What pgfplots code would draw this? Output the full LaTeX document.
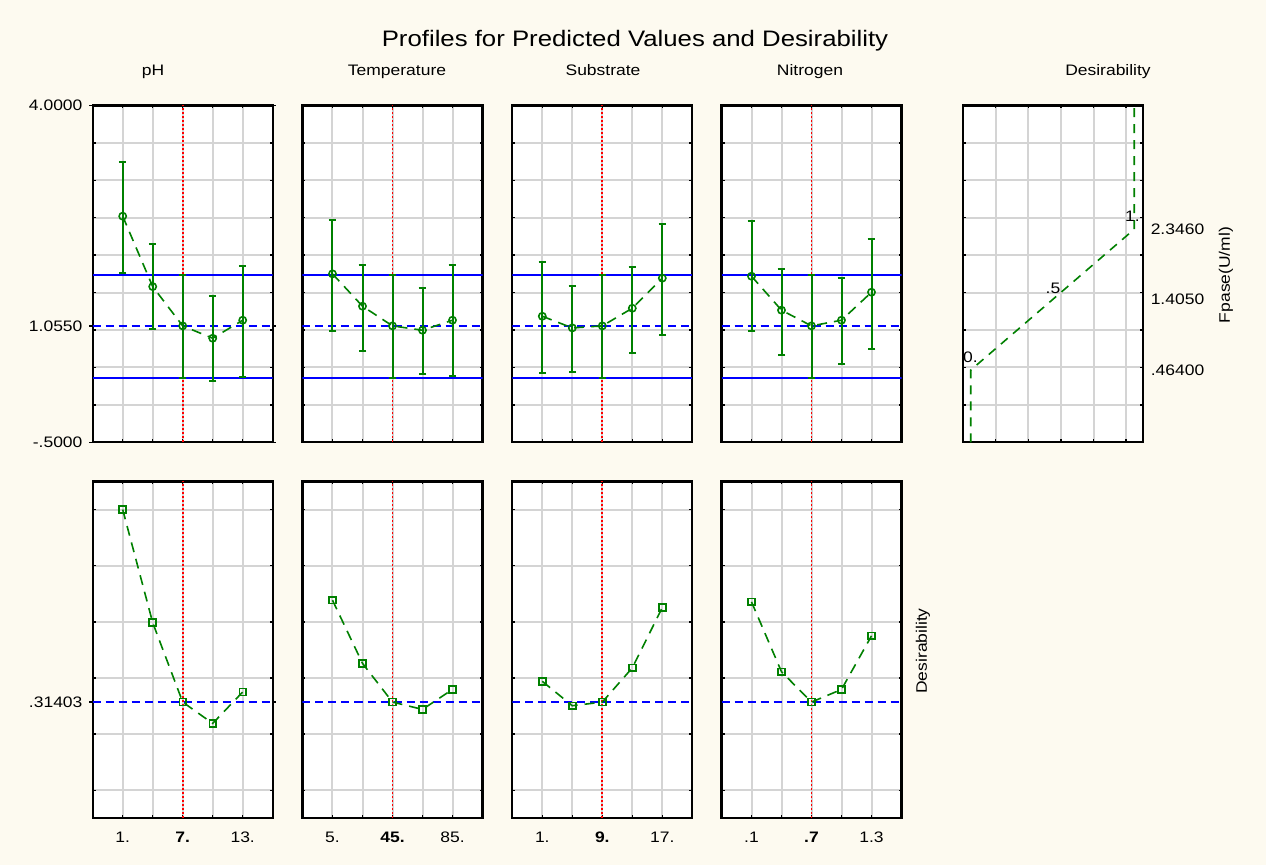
\documentclass[border=0pt]{standalone}
\usepackage{pgfplots}
\pgfplotsset{compat=1.18}
\usepackage{fontspec}
\setmainfont{Liberation Sans}[FakeStretch=1.15]
\definecolor{bg}{RGB}{253,250,240}
\definecolor{gr}{RGB}{0,128,0}
\definecolor{gridc}{RGB}{212,212,212}
\newcommand{\lab}{\fontsize{7.6}{9}\selectfont}

\pgfplotsset{
  panel/.style={
    scale only axis, width=90pt, height=168.4pt,
    anchor=south west,
    axis background/.style={fill=white},
    axis line style={line width=1.05pt},
    grid=major, major grid style={gridc, line width=1pt},
    tick align=inside, major tick length=1.5pt,
    major tick style={black, line width=0.7pt},
    tick label style={font=\lab},
    xticklabel style={yshift=-3.5pt},
    extra y tick style={grid=none},
  },
  toprow/.style={ymin=-0.5, ymax=4, ytick={0,0.5,1,1.5,2,2.5,3,3.5}, yticklabels={}},
  botrow/.style={ymin=-0.1, ymax=1.1, ytick={0,0.2,0.4,0.6,0.8,1}, yticklabels={}},
  bsolid/.style={blue, line width=0.9pt, forget plot},
  bdash/.style={blue, line width=0.9pt, dash pattern=on 4pt off 2.5pt, forget plot},
  rdot/.style={red, line width=0.9pt, dash pattern=on 0.9pt off 1.1pt, forget plot},
  prof/.style={gr, line width=0.8pt, dash pattern=on 5pt off 3.5pt, mark=o, mark size=1.8pt,
    mark options={solid, line width=0.8pt},
    error bars/.cd, y dir=both, y explicit,
    error bar style={solid, line width=1pt},
    error mark options={rotate=90, mark size=1.9pt, solid, line width=1pt}},
  desir/.style={gr, line width=0.8pt, dash pattern=on 5pt off 3.5pt, mark=square, mark size=1.7pt,
    mark options={solid, line width=0.8pt}},
}

\begin{document}
\begin{tikzpicture}
\fill[bg] (0,0) rectangle (633pt,432.5pt);

% titles
\node[font=\fontsize{11.2}{13}\selectfont, anchor=base] at (317.5pt,409pt) {Profiles for Predicted Values and Desirability};
\node[font=\lab, anchor=base] at (76.5pt,394.5pt) {pH};
\node[font=\lab, anchor=base] at (198.5pt,394.5pt) {Temperature};
\node[font=\lab, anchor=base] at (301.5pt,394.5pt) {Substrate};
\node[font=\lab, anchor=base] at (405pt,394.5pt) {Nitrogen};
\node[font=\lab, anchor=base] at (554pt,394.5pt) {Desirability};
\node[font=\lab, rotate=90] at (613pt,295pt) {Fpase(U/ml)};
\node[font=\lab, rotate=90] at (461.5pt,107pt) {Desirability};

% ---------------- top row ----------------
\begin{axis}[panel, toprow, at={(46.35pt,211.35pt)},
  xmin=-2, xmax=16, xtick={1,4,7,10,13}, xticklabels={},
  extra y ticks={-0.5,1.055,4}, extra y tick labels={-.5000,1.0550,4.0000},
  extra y tick style={grid=none, tick align=outside, major tick length=1.6pt}]
\addplot[bsolid] coordinates {(-2,1.733) (16,1.733)};
\addplot[bsolid] coordinates {(-2,0.364) (16,0.364)};
\addplot[bdash] coordinates {(-2,1.055) (16,1.055)};
\addplot[rdot] coordinates {(7,-0.5) (7,4)};
\addplot[prof] coordinates {
 (1,2.521) += (0,0.730) -= (0,0.758)
 (4,1.580) += (0,0.575) -= (0,0.569)
 (7,1.055) += (0,0.678) -= (0,0.691)
 (10,0.890) += (0,0.570) -= (0,0.570)
 (13,1.131) += (0,0.730) -= (0,0.754)};
\end{axis}

\begin{axis}[panel, toprow, at={(151.25pt,211.35pt)},
  xmin=-15, xmax=105, xtick={5,25,45,65,85}, xticklabels={}]
\addplot[bsolid] coordinates {(-15,1.733) (105,1.733)};
\addplot[bsolid] coordinates {(-15,0.364) (105,0.364)};
\addplot[bdash] coordinates {(-15,1.055) (105,1.055)};
\addplot[rdot] coordinates {(45,-0.5) (45,4)};
\addplot[prof] coordinates {
 (5,1.750) += (0,0.722) -= (0,0.758)
 (25,1.318) += (0,0.552) -= (0,0.593)
 (45,1.055) += (0,0.678) -= (0,0.691)
 (65,0.997) += (0,0.562) -= (0,0.580)
 (85,1.131) += (0,0.735) -= (0,0.749)};
\end{axis}

\begin{axis}[panel, toprow, at={(256.15pt,211.35pt)},
  xmin=-3, xmax=21, xtick={1,5,9,13,17}, xticklabels={}]
\addplot[bsolid] coordinates {(-3,1.733) (21,1.733)};
\addplot[bsolid] coordinates {(-3,0.364) (21,0.364)};
\addplot[bdash] coordinates {(-3,1.055) (21,1.055)};
\addplot[rdot] coordinates {(9,-0.5) (9,4)};
\addplot[prof] coordinates {
 (1,1.184) += (0,0.730) -= (0,0.753)
 (5,1.028) += (0,0.562) -= (0,0.588)
 (9,1.055) += (0,0.678) -= (0,0.691)
 (13,1.291) += (0,0.549) -= (0,0.601)
 (17,1.693) += (0,0.725) -= (0,0.759)};
\end{axis}

\begin{axis}[panel, toprow, at={(360.75pt,211.35pt)},
  xmin=-0.2, xmax=1.6, xtick={0.1,0.4,0.7,1.0,1.3}, xticklabels={}]
\addplot[bsolid] coordinates {(-0.2,1.733) (1.6,1.733)};
\addplot[bsolid] coordinates {(-0.2,0.364) (1.6,0.364)};
\addplot[bdash] coordinates {(-0.2,1.055) (1.6,1.055)};
\addplot[rdot] coordinates {(0.7,-0.5) (0.7,4)};
\addplot[prof] coordinates {
 (0.1,1.719) += (0,0.740) -= (0,0.735)
 (0.4,1.265) += (0,0.552) -= (0,0.598)
 (0.7,1.055) += (0,0.678) -= (0,0.691)
 (1.0,1.131) += (0,0.570) -= (0,0.584)
 (1.3,1.505) += (0,0.717) -= (0,0.762)};
\end{axis}

\begin{axis}[panel, toprow, at={(481.35pt,211.35pt)},
  xmin=0, xmax=1.8, xtick={0.33,0.656,0.982,1.308,1.634}, xticklabels={},
  clip=false]
\addplot[gr, line width=0.8pt, dash pattern=on 4.5pt off 3.5pt] coordinates {(0.08,-0.5) (0.08,0.464) (1.715,2.346) (1.715,4)};
\node[font=\lab] at (axis cs:0.078,0.634) {0.};
\node[font=\lab] at (axis cs:0.903,1.563) {.5};
\node[font=\lab] at (axis cs:1.698,2.525) {1.};
\node[font=\lab, anchor=west] at (axis cs:1.81,2.346) {2.3460};
\node[font=\lab, anchor=west] at (axis cs:1.81,1.405) {1.4050};
\node[font=\lab, anchor=west] at (axis cs:1.81,0.464) {.46400};
\end{axis}

% ---------------- bottom row ----------------
\begin{axis}[panel, botrow, at={(46.35pt,23.35pt)},
  xmin=-2, xmax=16, xtick={1,4,7,10,13}, xticklabels={1.,,\textbf{7.},,13.},
  extra y ticks={0.31403}, extra y tick labels={.31403},
  extra y tick style={grid=none, tick align=outside, major tick length=1.6pt}]
\addplot[bdash] coordinates {(-2,0.31403) (16,0.31403)};
\addplot[rdot] coordinates {(7,-0.1) (7,1.1)};
\addplot[desir] coordinates {(1,1.0) (4,0.597) (7,0.314) (10,0.238) (13,0.350)};
\end{axis}

\begin{axis}[panel, botrow, at={(151.25pt,23.35pt)},
  xmin=-15, xmax=105, xtick={5,25,45,65,85}, xticklabels={5.,,\textbf{45.},,85.}]
\addplot[bdash] coordinates {(-15,0.31403) (105,0.31403)};
\addplot[rdot] coordinates {(45,-0.1) (45,1.1)};
\addplot[desir] coordinates {(5,0.677) (25,0.452) (45,0.314) (65,0.288) (85,0.359)};
\end{axis}

\begin{axis}[panel, botrow, at={(256.15pt,23.35pt)},
  xmin=-3, xmax=21, xtick={1,5,9,13,17}, xticklabels={1.,,\textbf{9.},,17.}]
\addplot[bdash] coordinates {(-3,0.31403) (21,0.31403)};
\addplot[rdot] coordinates {(9,-0.1) (9,1.1)};
\addplot[desir] coordinates {(1,0.388) (5,0.301) (9,0.314) (13,0.436) (17,0.651)};
\end{axis}

\begin{axis}[panel, botrow, at={(360.75pt,23.35pt)},
  xmin=-0.2, xmax=1.6, xtick={0.1,0.4,0.7,1.0,1.3}, xticklabels={.1,,\textbf{.7},,1.3}]
\addplot[bdash] coordinates {(-0.2,0.31403) (1.6,0.31403)};
\addplot[rdot] coordinates {(0.7,-0.1) (0.7,1.1)};
\addplot[desir] coordinates {(0.1,0.671) (0.4,0.422) (0.7,0.314) (1.0,0.359) (1.3,0.550)};
\end{axis}

\end{tikzpicture}
\end{document}
